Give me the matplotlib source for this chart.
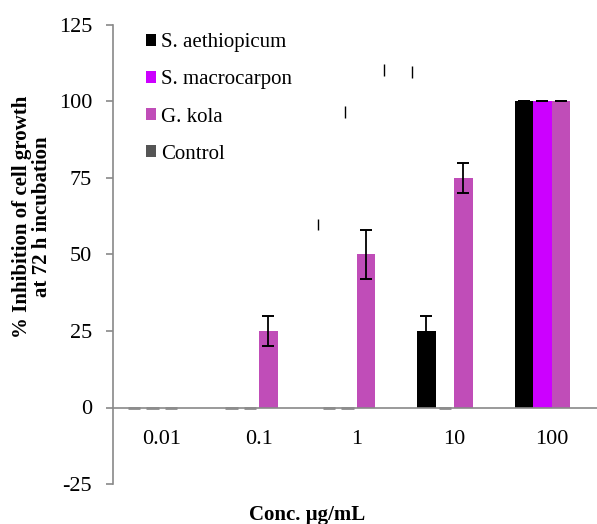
import matplotlib
matplotlib.use("Agg")
import matplotlib.pyplot as plt
import numpy as np

plt.rcParams['font.family'] = ['Liberation Serif', 'DejaVu Serif']
plt.rcParams['axes.unicode_minus'] = False

# data
conc = ['0.01', '0.1', '1', '10', '100']
series = ['S. aethiopicum', 'S. macrocarpon', 'G. kola', 'Control']
aethiopicum = [0, 0, 0, 25, 100]
aethiopicum_err = [0, 0, 0, 5, 0]
macrocarpon = [0, 0, 0, 0, 100]
macrocarpon_err = [0, 0, 0, 0, 0]
kola = [0, 25, 50, 75, 100]
kola_err = [0, 5, 8, 5, 0]
control = [np.nan] * 5
# stray error-bar fragments visible in the source chart (x in category units)
stray_x = [1.603, 1.880, 2.280, 2.567]
stray_lo = [58.1, 94.6, 108.4, 107.7]
stray_hi = [61.7, 98.6, 112.3, 111.6]

colors = ['#000000', '#CC00FF', '#C04DB8', '#555555']
values = [aethiopicum, macrocarpon, kola, control]
errors = [aethiopicum_err, macrocarpon_err, kola_err, [0] * 5]

fig = plt.figure(figsize=(5.97, 5.24), dpi=100)
ax = fig.add_axes([113/597, 1-484/524, 484/597, 459/524])

x = np.arange(len(conc))
w = 0.19
for i, (vals, errs, c, name) in enumerate(zip(values, errors, colors, series)):
    pos = x + (i - 1.5) * w
    v = np.array(vals, dtype=float)
    ax.bar(pos, v, width=w, color=c, label=name, zorder=2)
    zero = v == 0
    ax.hlines(np.zeros(zero.sum()), pos[zero] - 0.33*w, pos[zero] + 0.33*w,
              color='#8c8c8c', lw=2, zorder=3)
    ok = (~np.isnan(v)) & (v > 0)
    ax.errorbar(pos[ok], v[ok], yerr=np.array(errs)[ok], fmt='none',
                ecolor='black', elinewidth=1.3, capsize=4.4, capthick=1.4, zorder=4)

ax.vlines(stray_x, stray_lo, stray_hi, color='black', lw=1, zorder=4)

ax.set_xlim(-0.5, 4.465)
ax.set_ylim(-25, 125)
ax.set_yticks([-25, 0, 25, 50, 75, 100, 125])
ax.set_xticks(x)
ax.set_xticklabels(conc)
ax.tick_params(axis='y', direction='out', length=5, width=1.2, color='#898989',
               labelsize=16, pad=10)
ax.tick_params(axis='x', length=0, labelsize=16, pad=16)

for s in ['top', 'right']:
    ax.spines[s].set_visible(False)
ax.spines['bottom'].set_position(('data', 0))
for s in ['left', 'bottom']:
    ax.spines[s].set_color('#898989')
    ax.spines[s].set_linewidth(1.2)

leg = ax.legend(loc='upper left', bbox_to_anchor=(0.05, 1.0), frameon=False,
                fontsize=15, handlelength=0.5, handleheight=0.5,
                handletextpad=0.25, labelspacing=0.87, borderaxespad=0)

fig.text(32/597, 1-217/524, '% Inhibition of cell growth\nat 72 h incubation',
         rotation=90, ha='center', va='center', fontsize=15, fontweight='bold',
         multialignment='center', linespacing=1.0)
fig.text(307/597, 1-520/524, 'Conc. µg/mL', ha='center', va='baseline',
         fontsize=15, fontweight='bold')

fig.savefig('out.png', dpi=100)
